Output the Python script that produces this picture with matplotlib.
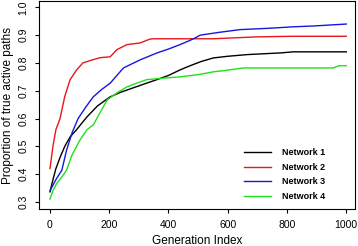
import numpy as np
import matplotlib.pyplot as plt

plt.rcParams['font.family'] = ['Liberation Sans', 'DejaVu Sans']

# valores (generacion, proporcion)
gen1 = [0, 10, 20, 34, 50, 68, 90, 111, 125, 160, 203, 240, 280, 320, 361, 400, 439, 473, 510, 551, 600, 665, 720, 777, 821, 900, 1000]
net1 = [0.336, 0.38, 0.42, 0.46, 0.50, 0.534, 0.56, 0.588, 0.606, 0.645, 0.678, 0.695, 0.71, 0.725, 0.74, 0.755, 0.775, 0.79, 0.805, 0.818, 0.824, 0.83, 0.833, 0.836, 0.84, 0.84, 0.84]

gen2 = [0, 5, 10, 20, 34, 50, 68, 90, 111, 140, 169, 203, 226, 260, 304, 338, 351, 439, 550, 703, 821, 1000]
net2 = [0.42, 0.46, 0.50, 0.56, 0.60, 0.68, 0.74, 0.775, 0.80, 0.81, 0.819, 0.822, 0.848, 0.866, 0.872, 0.886, 0.887, 0.887, 0.887, 0.894, 0.896, 0.896]

gen3 = [0, 20, 40, 56, 75, 95, 120, 146, 175, 203, 248, 304, 361, 400, 439, 470, 490, 507, 570, 642, 743, 820, 889, 1000]
net3 = [0.34, 0.38, 0.414, 0.486, 0.55, 0.60, 0.64, 0.678, 0.705, 0.727, 0.782, 0.811, 0.836, 0.85, 0.866, 0.88, 0.89, 0.90, 0.91, 0.92, 0.925, 0.93, 0.933, 0.94]

gen4 = [0, 10, 23, 40, 56, 74, 101, 125, 146, 193, 230, 260, 300, 327, 380, 439, 500, 551, 585, 652, 800, 956, 975, 1000]
net4 = [0.31, 0.34, 0.367, 0.39, 0.414, 0.468, 0.522, 0.56, 0.577, 0.667, 0.695, 0.714, 0.73, 0.74, 0.745, 0.75, 0.758, 0.768, 0.772, 0.782, 0.782, 0.782, 0.79, 0.79]

series = [("Network 1", gen1, net1, "black"),
          ("Network 2", gen2, net2, "#e8161b"),
          ("Network 3", gen3, net3, "#1616e0"),
          ("Network 4", gen4, net4, "#1fe01f")]

fig = plt.figure(figsize=(3.58, 2.46), dpi=100)
ax = fig.add_axes([0.109, 0.150, 0.883, 0.846])

for nombre, g, v, c in series:
    ax.plot(g, v, color=c, lw=1.0, label=nombre)

ax.set_xlim(-37, 1030)
ax.set_ylim(0.274, 1.023)
ax.set_xticks([0, 200, 400, 600, 800, 1000])
ax.set_yticks([0.3, 0.4, 0.5, 0.6, 0.7, 0.8, 0.9, 1.0])
ax.set_yticklabels(["0.3", "0.4", "0.5", "0.6", "0.7", "0.8", "0.9", "1.0"], rotation=90, va='center')
ax.tick_params(labelsize=7.5, length=3, width=0.8, pad=4.5)
for s in ax.spines.values():
    s.set_linewidth(0.8)

ax.set_xlabel("Generation Index", fontsize=8.5, labelpad=4)
ax.set_ylabel("Proportion of true active paths", fontsize=8.5, labelpad=3)

ax.legend(loc='lower right', frameon=False, prop={'weight': 'bold', 'size': 6.5},
          handlelength=3.0, handletextpad=1.2, labelspacing=0.62, bbox_to_anchor=(0.93, 0.0))

fig.savefig("out.png", dpi=100)
